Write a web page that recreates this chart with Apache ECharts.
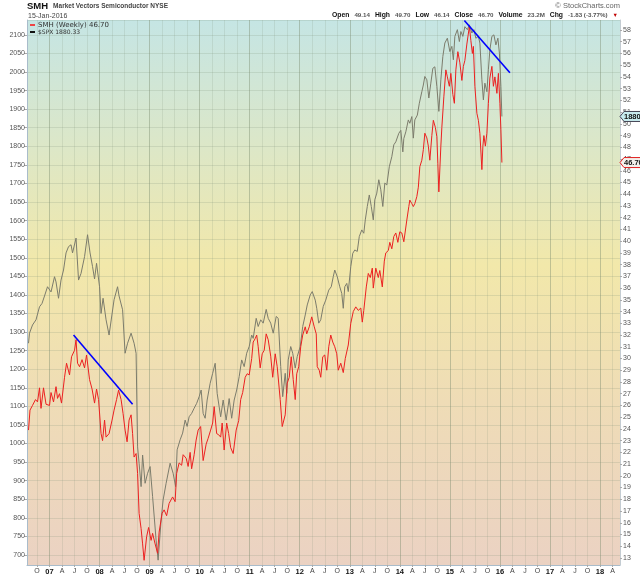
<!DOCTYPE html>
<html><head><meta charset="utf-8">
<script src="https://cdn.jsdelivr.net/npm/echarts@6/dist/echarts.min.js"></script>
<style>html,body{margin:0;padding:0;background:#fff}#c{width:640px;height:576px}</style>
</head><body><div id="c"></div>
<script>
// ---- data (decimal year, value) ----
const spxTime = [2006.58,2006.60,2006.66,2006.73,2006.80,2006.85,2006.90,2006.96,2007.03,2007.10,
2007.13,2007.18,2007.23,2007.28,2007.33,2007.38,2007.43,2007.46,2007.53,2007.58,
2007.63,2007.70,2007.76,2007.81,2007.86,2007.90,2007.94,2008.00,2008.03,2008.07,
2008.13,2008.19,2008.29,2008.36,2008.39,2008.46,2008.51,2008.56,2008.63,2008.69,
2008.73,2008.76,2008.79,2008.83,2008.86,2008.91,2008.96,2009.01,2009.06,2009.13,
2009.17,2009.23,2009.27,2009.33,2009.41,2009.47,2009.52,2009.55,2009.61,2009.66,
2009.71,2009.75,2009.79,2009.84,2009.89,2009.94,2009.99,2010.03,2010.07,2010.11,
2010.15,2010.21,2010.26,2010.31,2010.35,2010.39,2010.42,2010.47,2010.53,2010.59,
2010.64,2010.69,2010.74,2010.79,2010.84,2010.89,2010.94,2010.99,2011.04,2011.07,
2011.13,2011.17,2011.22,2011.27,2011.33,2011.37,2011.42,2011.47,2011.53,2011.57,
2011.62,2011.66,2011.71,2011.74,2011.77,2011.82,2011.86,2011.91,2011.95,2012.01,
2012.06,2012.11,2012.15,2012.21,2012.25,2012.31,2012.34,2012.38,2012.42,2012.47,
2012.52,2012.58,2012.63,2012.67,2012.70,2012.75,2012.80,2012.84,2012.87,2012.90,
2012.94,2012.97,2013.02,2013.06,2013.10,2013.15,2013.19,2013.24,2013.28,2013.31,
2013.35,2013.39,2013.43,2013.47,2013.50,2013.54,2013.58,2013.62,2013.66,2013.70,
2013.74,2013.79,2013.84,2013.88,2013.92,2013.98,2014.02,2014.06,2014.08,2014.12,
2014.17,2014.20,2014.24,2014.27,2014.30,2014.35,2014.39,2014.44,2014.47,2014.50,
2014.54,2014.58,2014.62,2014.66,2014.70,2014.74,2014.78,2014.82,2014.86,2014.90,
2014.95,2015.00,2015.04,2015.07,2015.10,2015.15,2015.19,2015.22,2015.26,2015.30,
2015.35,2015.39,2015.44,2015.48,2015.52,2015.57,2015.60,2015.64,2015.67,2015.70,
2015.74,2015.77,2015.80,2015.84,2015.88,2015.92,2015.96,2015.99,2016.02,2016.04];
const spxValue = [1270,1297,1319,1333,1368,1377,1397,1422,1408,1449,
1435,1391,1440,1467,1513,1530,1535,1513,1553,1440,
1458,1503,1562,1513,1476,1443,1485,1422,1350,1391,
1333,1292,1387,1422,1397,1360,1243,1270,1297,1270,
1243,991,947,884,969,893,920,938,857,740,
686,794,848,893,947,920,884,983,1010,1028,
1063,1046,1072,1081,1095,1108,1126,1144,1081,1068,
1117,1162,1189,1216,1135,1099,1072,1117,1063,1121,
1068,1117,1144,1180,1225,1207,1243,1261,1292,1283,
1337,1315,1333,1324,1361,1337,1324,1297,1342,1337,
1207,1126,1189,1135,1225,1261,1243,1203,1234,1261,
1315,1346,1373,1400,1409,1386,1364,1324,1333,1369,
1386,1413,1422,1449,1467,1449,1422,1404,1364,1422,
1431,1409,1476,1512,1521,1517,1557,1575,1566,1602,
1638,1669,1638,1602,1656,1674,1710,1683,1638,1701,
1696,1745,1772,1804,1812,1835,1843,1785,1821,1839,
1871,1862,1880,1822,1871,1884,1916,1947,1965,1988,
1979,1930,1970,2010,2014,1961,1894,1979,2042,2078,
2091,2055,2069,2033,2096,2114,2082,2109,2096,2122,
2114,2127,2105,2114,2091,2096,2078,1979,1925,1970,
1947,2006,2060,2096,2100,2073,2091,2051,1961,1880.33];

const smhTime = [2006.58,2006.61,2006.66,2006.72,2006.76,2006.80,2006.83,2006.88,2006.93,2007.00,
2007.03,2007.08,2007.13,2007.16,2007.20,2007.24,2007.30,2007.34,2007.40,2007.44,
2007.50,2007.53,2007.56,2007.60,2007.65,2007.70,2007.74,2007.80,2007.85,2007.90,
2007.94,2007.98,2008.03,2008.06,2008.10,2008.13,2008.19,2008.25,2008.29,2008.34,
2008.38,2008.43,2008.47,2008.51,2008.55,2008.59,2008.63,2008.66,2008.69,2008.73,
2008.76,2008.79,2008.83,2008.86,2008.89,2008.94,2008.98,2009.03,2009.06,2009.11,
2009.16,2009.19,2009.25,2009.29,2009.34,2009.39,2009.46,2009.51,2009.54,2009.59,
2009.64,2009.67,2009.73,2009.77,2009.81,2009.84,2009.89,2009.93,2009.97,2010.02,
2010.07,2010.13,2010.17,2010.22,2010.26,2010.29,2010.34,2010.38,2010.42,2010.45,
2010.49,2010.54,2010.58,2010.62,2010.67,2010.73,2010.78,2010.82,2010.86,2010.91,
2010.95,2010.99,2011.04,2011.07,2011.11,2011.14,2011.17,2011.21,2011.25,2011.29,
2011.33,2011.37,2011.42,2011.46,2011.51,2011.55,2011.61,2011.65,2011.71,2011.75,
2011.79,2011.83,2011.87,2011.91,2011.94,2011.98,2012.02,2012.06,2012.11,2012.14,
2012.19,2012.24,2012.29,2012.33,2012.35,2012.39,2012.42,2012.46,2012.50,2012.54,
2012.58,2012.62,2012.66,2012.70,2012.74,2012.77,2012.82,2012.87,2012.91,2012.97,
2013.02,2013.07,2013.12,2013.17,2013.22,2013.25,2013.28,2013.33,2013.37,2013.41,
2013.45,2013.47,2013.52,2013.57,2013.60,2013.65,2013.69,2013.72,2013.77,2013.80,
2013.84,2013.88,2013.92,2013.96,2014.00,2014.04,2014.08,2014.14,2014.18,2014.20,
2014.24,2014.27,2014.30,2014.34,2014.37,2014.40,2014.44,2014.47,2014.50,2014.54,
2014.57,2014.60,2014.64,2014.67,2014.71,2014.74,2014.76,2014.78,2014.82,2014.84,
2014.88,2014.92,2014.95,2014.99,2015.02,2015.06,2015.09,2015.12,2015.16,2015.20,
2015.24,2015.27,2015.30,2015.34,2015.39,2015.42,2015.45,2015.47,2015.50,2015.54,
2015.57,2015.60,2015.64,2015.66,2015.68,2015.71,2015.74,2015.77,2015.80,2015.84,
2015.87,2015.90,2015.94,2015.97,2016.00,2016.02,2016.04];
const smhValue = [23.9,25.6,26.0,26.5,26.3,27.5,25.75,27.5,26.1,26.0,
27.1,26.3,27.6,26.6,27.0,26.2,28.4,29.6,28.6,30.15,
30.7,31.6,29.6,29.3,29.9,29.2,30.3,28.2,27.4,26.2,
27.4,26.5,23.6,23.0,24.75,23.3,23.6,24.75,25.6,26.5,
27.3,26.5,25.3,23.9,22.9,24.75,25.2,23.6,21.6,21.9,
20.2,16.8,15.5,14.2,12.8,14.8,15.6,14.5,15.1,14.2,
13.4,15.2,16.8,17.1,16.6,17.65,18.2,17.8,20.2,21.1,
20.9,21.8,21.5,20.8,22.0,20.6,21.8,23.05,23.9,24.2,
21.3,22.7,23.2,23.9,24.5,25.9,23.6,23.5,23.3,24.5,
22.2,24.5,23.6,22.4,21.9,23.9,24.7,26.5,27.1,28.4,
28.7,28.6,30.0,31.4,31.7,32.0,31.0,29.2,30.4,30.7,
32.1,31.6,30.2,28.4,30.4,29.3,26.5,24.2,25.2,27.9,
28.4,30.15,28.2,26.5,28.7,29.3,31.0,32.0,32.7,32.1,
32.7,33.55,32.7,32.1,29.3,29.0,28.4,30.15,30.3,29.0,
31.0,32.0,31.4,31.0,30.4,29.0,29.6,28.8,30.0,31.15,
33.0,34.0,34.4,34.1,34.3,33.1,34.1,36.1,37.25,36.9,
37.7,36.0,37.7,36.9,37.5,36.1,38.3,39.0,39.2,39.9,
39.35,40.4,40.7,39.9,40.8,40.7,39.95,41.8,42.95,43.5,
43.2,42.95,43.2,43.8,44.6,46.35,46.9,47.8,49.2,48.8,
48.1,46.9,49.0,50.3,49.7,48.9,46.6,44.2,48.1,49.7,
52.3,54.6,54.0,53.2,54.3,52.5,51.75,54.6,56.15,55.2,
53.7,54.9,55.4,56.8,58.3,57.1,56.0,56.6,53.2,50.9,
50.3,49.2,46.1,48.1,49.0,48.1,49.2,51.75,53.9,54.9,
53.2,54.0,52.6,54.3,51.75,49.5,46.70];

const trend1Time = [2007.48, 2008.66];
const trend1Value = [32.0, 26.1];
const trend2Time = [2015.29, 2016.20];
const trend2Value = [58.8, 54.36];

const quarterLetters = ['', 'A', 'J', 'O'];
const spxLast = 1880.33;
const smhLast = 46.70;
const titleSymbol = 'SMH';
const titleName = 'Market Vectors Semiconductor NYSE';
const titleDate = '15-Jan-2016';
const quote = [['Open','49.14'],['High','49.70'],['Low','46.14'],['Close','46.70'],['Volume','23.2M'],['Chg','-1.83 (-3.77%)']];

// ---- build ----
const pairs = (t, v) => t.map((x, i) => [x, v[i]]);
const FONT = 'Liberation Sans, Arial, sans-serif';
const chart = echarts.init(document.getElementById('c'), null, {renderer: 'canvas'});

const quoteRich = quote.map(([k, v]) => '{k|' + k + '} {v|' + v + '}').join(' ') + ' {r|▼}';

const option = {
  animation: false,
  backgroundColor: '#ffffff',
  grid: {
    left: 27, right: 20, top: 20, bottom: 11,
    show: true, borderWidth: 0,
    backgroundColor: new echarts.graphic.LinearGradient(0, 0, 0, 1, [
      {offset: 0, color: '#c5e5e4'},
      {offset: 0.22, color: '#dbe7c9'},
      {offset: 0.45, color: '#f2e8aa'},
      {offset: 0.7, color: '#efdcb6'},
      {offset: 1, color: '#ebd2c3'}
    ])
  },
  xAxis: [{
    type: 'value', min: 2006.55, max: 2018.4, minInterval: 0.25, maxInterval: 0.25,
    axisLine: {show: true, lineStyle: {color: '#a9bccb', width: 1}},
    axisTick: {show: true, length: 2, lineStyle: {color: '#aaa'}},
    axisLabel: {
      showMinLabel: false, showMaxLabel: false, margin: 3,
      fontFamily: FONT, fontSize: 7, color: '#444',
      formatter: v => {
        const y = Math.floor(v + 1e-6);
        const q = Math.round((v - y) * 4);
        if (Math.abs((v - y) * 4 - q) > 1e-3) return '';
        if (q === 0) return '{b|' + String(y % 100).padStart(2, '0') + '}';
        return quarterLetters[q];
      },
      rich: {b: {fontWeight: 'bold', fontSize: 7.5, color: '#111', fontFamily: FONT}}
    },
    splitLine: {show: true, lineStyle: {color: 'rgba(125,145,120,0.17)', width: 1}}
  }, {
    type: 'value', min: 2006.55, max: 2018.4, minInterval: 1, maxInterval: 1, position: 'top',
    axisLine: {show: false}, axisTick: {show: false}, axisLabel: {show: false},
    splitLine: {show: true, lineStyle: {color: 'rgba(120,135,105,0.3)', width: 1}}
  }],
  yAxis: [{
    type: 'value', min: 673, max: 2140, minInterval: 50, maxInterval: 50, position: 'left',
    axisLine: {show: true, lineStyle: {color: '#a9bccb', width: 1}},
    axisTick: {show: true, length: 3, lineStyle: {color: '#aaa'}},
    axisLabel: {showMinLabel: false, showMaxLabel: false, margin: 2, fontFamily: FONT, fontSize: 7, color: '#555',
      formatter: v => String(v)},
    splitLine: {show: true, lineStyle: {color: 'rgba(125,145,120,0.2)', width: 1}}
  }, {
    type: 'value', min: 12.4, max: 58.85, minInterval: 1, maxInterval: 1, position: 'right',
    axisLine: {show: true, lineStyle: {color: '#c4ccd2', width: 1}},
    axisTick: {show: true, length: 2, lineStyle: {color: '#aaa'}},
    axisLabel: {showMinLabel: false, showMaxLabel: false, margin: 3, fontFamily: FONT, fontSize: 7, color: '#555',
      formatter: v => String(v)},
    splitLine: {show: false}
  }],
  title: [{
    left: 27, top: 1, padding: 0,
    text: '{s|' + titleSymbol + '} {n|' + titleName + '}',
    textStyle: {lineHeight: 10, rich: {s: {fontFamily: FONT, fontWeight: 'bold', fontSize: 9.5, color: '#111', lineHeight: 10}, n: {fontFamily: FONT, fontSize: 6.5, color: '#444', lineHeight: 10}}}
  }, {
    left: 28, top: 12, padding: 0, text: titleDate,
    textStyle: {fontFamily: FONT, fontSize: 7, fontWeight: 'normal', color: '#444', lineHeight: 8}
  }, {
    right: 20, top: 2, padding: 0, text: '© StockCharts.com',
    textStyle: {fontFamily: FONT, fontSize: 7.5, fontWeight: 'normal', color: '#666', lineHeight: 8}
  }, {
    right: 22, top: 11, padding: 0, text: quoteRich,
    textStyle: {lineHeight: 8, rich: {
      k: {fontFamily: FONT, fontWeight: 'bold', fontSize: 6.8, color: '#111', lineHeight: 8},
      v: {fontFamily: FONT, fontSize: 6.2, color: '#555', lineHeight: 8},
      r: {fontFamily: FONT, fontSize: 5.5, color: '#c00000', lineHeight: 8}
    }}
  }],
  series: [{
    name: '$SPX', type: 'line', xAxisIndex: 0, yAxisIndex: 0, data: pairs(spxTime, spxValue),
    showSymbol: false, symbol: 'none', lineStyle: {color: '#7c7c6c', width: 1}, z: 2
  }, {
    name: 'SMH', type: 'line', xAxisIndex: 0, yAxisIndex: 1, data: pairs(smhTime, smhValue),
    showSymbol: false, symbol: 'none', lineStyle: {color: '#ec2020', width: 1}, z: 3
  }, {
    name: 'trend1', type: 'line', xAxisIndex: 0, yAxisIndex: 1, data: pairs(trend1Time, trend1Value),
    showSymbol: false, symbol: 'none', lineStyle: {color: '#0000ff', width: 1.6}, z: 4
  }, {
    name: 'trend2', type: 'line', xAxisIndex: 0, yAxisIndex: 1, data: pairs(trend2Time, trend2Value),
    showSymbol: false, symbol: 'none', lineStyle: {color: '#0000ff', width: 1.6}, z: 4
  }]
};
chart.setOption(option);

// value tags & in-plot legend (positions from the library's scales)
const ySpx = chart.convertToPixel({yAxisIndex: 0}, spxLast);
const ySmh = chart.convertToPixel({yAxisIndex: 1}, smhLast);
const xR = chart.convertToPixel({xAxisIndex: 0}, 2018.4);
function tag(y, txt, fill, stroke) {
  return [{
    type: 'polygon', z: 100,
    shape: {points: [[xR, y], [xR + 4, y - 5], [xR + 30, y - 5], [xR + 30, y + 5], [xR + 4, y + 5]]},
    style: {fill: fill, stroke: stroke, lineWidth: 1}
  }, {
    type: 'text', z: 101, x: xR + 4, y: y,
    style: {text: txt, fontFamily: FONT, fontSize: 7.5, fontWeight: 'bold', fill: '#111', verticalAlign: 'middle'}
  }];
}
const xL = chart.convertToPixel({xAxisIndex: 0}, 2006.55);
const yT = chart.convertToPixel({yAxisIndex: 0}, 2140);
chart.setOption({graphic: [
  ...tag(ySpx, spxLast.toFixed(2), '#c8ecef', '#445'),
  ...tag(ySmh, smhLast.toFixed(2), '#f4f0ec', '#e02020'),
  {type: 'rect', z: 100, shape: {x: xL + 3, y: yT + 4, width: 5, height: 2}, style: {fill: '#ee4444'}},
  {type: 'text', z: 100, x: xL + 11, y: yT + 5, style: {text: 'SMH (Weekly) 46.70', fontFamily: 'DejaVu Sans', fontSize: 7, fill: '#333', verticalAlign: 'middle'}},
  {type: 'rect', z: 100, shape: {x: xL + 3, y: yT + 11, width: 5, height: 2}, style: {fill: '#111'}},
  {type: 'text', z: 100, x: xL + 11, y: yT + 12, style: {text: '$SPX 1880.33', fontFamily: 'DejaVu Sans', fontSize: 6, fill: '#333', verticalAlign: 'middle'}}
]});
</script>
</body></html>
